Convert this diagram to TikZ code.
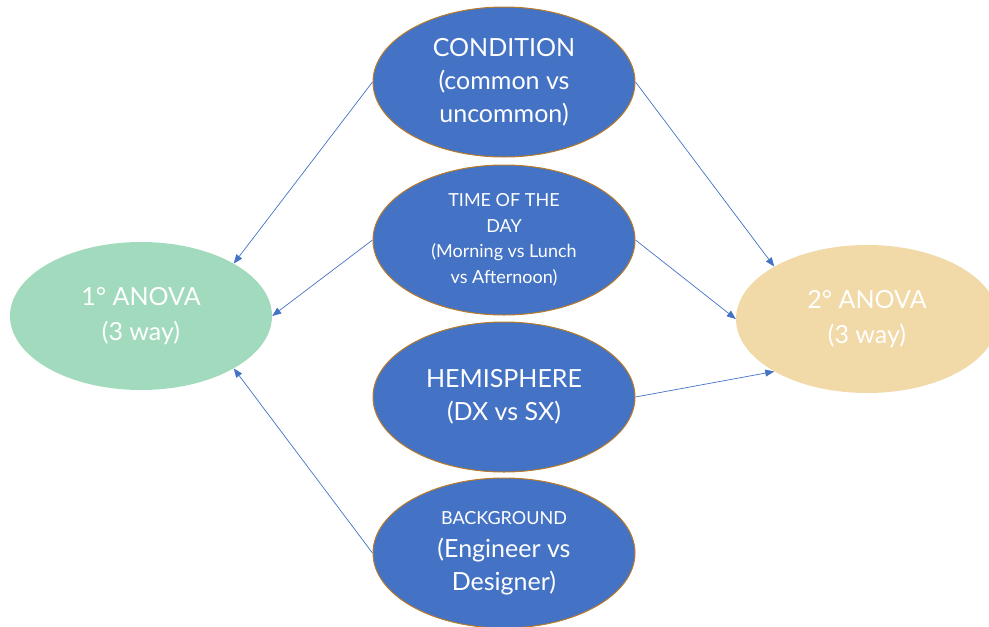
\documentclass[tikz,border=0pt]{standalone}
\usepackage{fontspec}
\setmainfont{Lato}
\usetikzlibrary{arrows.meta,shapes.geometric}

\definecolor{factorblue}{HTML}{4472C4}
\definecolor{factorrim}{RGB}{184,124,40}
\definecolor{anovagreen}{RGB}{161,218,188}
\definecolor{anovatan}{RGB}{241,217,168}

\begin{document}
\begin{tikzpicture}[x=1pt, y=1pt,
        factor/.style={ellipse, fill=factorblue, draw=factorrim, line width=1pt,
          minimum width=262pt, minimum height=150pt, inner sep=0pt,
          align=center, text=white, font=\fontsize{25}{33}\selectfont},
        small/.style={font=\fontsize{18}{25.5}\selectfont},
        anova/.style={ellipse, minimum width=262pt, minimum height=148pt,
          inner sep=0pt, align=center, text=white,
          font=\fontsize{25}{35}\selectfont},
        link/.style={draw=factorblue, line width=0.7pt,
          -{Triangle[length=9pt,width=7pt]}}]
        \useasboundingbox (0,0) rectangle (989,-627);
        % factors
        \node[factor] (cond) at (504,-82) {CONDITION\\(common vs\\uncommon)};
        \node[factor, small] (time) at (504,-240) {TIME OF THE\\DAY\\(Morning vs Lunch\\vs Afternoon)};
        \node[factor] (hemi) at (504,-397) {HEMISPHERE\\(DX vs SX)};
        \node[factor] (back) at (504,-553) {{\fontsize{18}{25}\selectfont BACKGROUND}\\(Engineer vs\\Designer)};
        % analyses
        \node[anova, fill=anovagreen] (first) at (141,-316) {1° ANOVA\\(3 way)};
        \node[anova, fill=anovatan] (second) at (867,-319) {2° ANOVA\\(3 way)};
        % links
        \draw[link] (cond.west) -- (first.north east);
        \draw[link] (time.west) -- (first.east);
        \draw[link] (back.west) -- (first.south east);
        \draw[link] (cond.east) -- (second.north west);
        \draw[link] (time.east) -- (second.west);
        \draw[link] (hemi.east) -- (second.south west);
\end{tikzpicture}
\end{document}
